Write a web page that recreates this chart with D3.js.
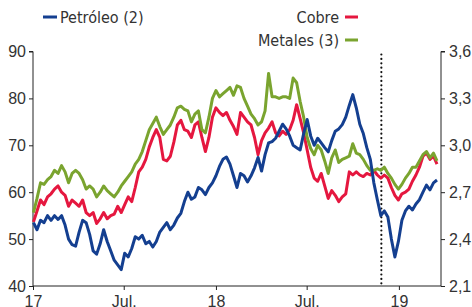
<!DOCTYPE html>
<html>
<head>
<meta charset="utf-8">
<script src="https://cdn.jsdelivr.net/npm/d3@7"></script>
<style>
  body { margin: 0; background: #fff; }
  svg { display: block; font-family: "Liberation Sans Narrow", "Arial Narrow", "DejaVu Sans Condensed", sans-serif; }
  .axis path, .axis line { stroke: #222; }
  .axis text { fill: #333; font-size: 16px; font-family: inherit; }
</style>
</head>
<body>
<div id="chart"></div>
<script>
// precios semanales (petróleo: eje izq., cobre y metales: eje der.)
const petroleo = [
  53.5, 52, 54, 53.5, 55, 54, 55, 54.2, 55, 53,
  50, 48.8, 48.5, 51.5, 54, 53.5, 51, 47.5, 46.8, 49,
  52, 49.5, 47.5, 45.5, 44.5, 43.5, 47, 46.2, 48, 50.5,
  50, 50.8, 49, 49.5, 48.3, 49.5, 51.5, 52.5, 53.5, 52,
  53, 54.5, 55.5, 58, 60, 58.5, 59, 61, 60.5, 59.5,
  61, 62, 63.5, 65.5, 67, 67.5, 66, 63.5, 61, 64,
  63.5, 62.2, 63.5, 65.2, 67.4, 64.5, 68, 70.5, 70.8, 71.5,
  73, 74.5, 73.5, 72, 70, 69.5, 69, 72.5, 75.5, 72,
  70, 71.5, 70.5, 69.5, 68.6, 71, 73, 73.5, 74.4, 76,
  78.5, 80.8, 78, 74.5, 72.5, 69.5, 67, 62, 58.4, 55,
  56, 54.7, 50, 46.2, 49.5, 54, 56, 57, 56.2, 57.5,
  58.4, 60, 61.5, 60.5, 62, 62.6
];
const cobre = [
  2.51, 2.58, 2.65, 2.62, 2.67, 2.69, 2.72, 2.74, 2.70, 2.68,
  2.61, 2.65, 2.63, 2.61, 2.65, 2.57, 2.55, 2.57, 2.50, 2.53,
  2.57, 2.53, 2.55, 2.56, 2.61, 2.57, 2.62, 2.67, 2.64, 2.73,
  2.83, 2.86, 2.91, 2.99, 3.05, 3.10, 3.05, 2.91, 2.90, 2.93,
  3.02, 3.13, 3.16, 3.10, 3.09, 3.05, 3.13, 3.15, 3.05, 2.96,
  3.05, 3.18, 3.24, 3.21, 3.19, 3.21, 3.16, 3.12, 3.07, 3.21,
  3.18, 3.15, 3.13, 3.05, 2.94, 3.03, 3.08, 3.11, 3.15, 3.08,
  3.06, 3.09, 3.07, 3.10, 3.16, 3.26, 3.17, 3.08, 2.97, 2.86,
  2.79, 2.77, 2.82, 2.74, 2.66, 2.71, 2.68, 2.64, 2.67, 2.69,
  2.83, 2.81, 2.83, 2.81, 2.80, 2.82, 2.81, 2.84, 2.81, 2.79,
  2.81, 2.79, 2.73, 2.68, 2.65, 2.69, 2.70, 2.72, 2.77, 2.81,
  2.86, 2.93, 2.95, 2.91, 2.93, 2.88
];
const metales = [
  2.57, 2.66, 2.76, 2.75, 2.78, 2.80, 2.84, 2.82, 2.87, 2.83,
  2.76, 2.82, 2.84, 2.82, 2.78, 2.72, 2.74, 2.72, 2.67, 2.70,
  2.74, 2.71, 2.69, 2.67, 2.70, 2.74, 2.77, 2.80, 2.83, 2.88,
  2.91, 2.96, 3.03, 3.10, 3.14, 3.18, 3.12, 3.07, 3.10, 3.13,
  3.18, 3.24, 3.25, 3.23, 3.22, 3.15, 3.20, 3.22, 3.10, 3.08,
  3.18, 3.30, 3.35, 3.31, 3.33, 3.35, 3.37, 3.32, 3.38, 3.37,
  3.30, 3.25, 3.20, 3.17, 3.13, 3.15, 3.22, 3.46, 3.31, 3.31,
  3.30, 3.31, 3.31, 3.30, 3.43, 3.40, 3.28, 3.18, 3.05, 2.98,
  2.94, 3.00, 2.97, 2.90, 2.82, 2.92, 2.97, 2.89, 2.91, 2.92,
  2.93, 3.01, 2.95, 2.94, 2.91, 2.87, 2.84, 2.84, 2.85, 2.84,
  2.86, 2.82, 2.79, 2.75, 2.72, 2.75, 2.79, 2.82, 2.86, 2.86,
  2.90, 2.94, 2.96, 2.92, 2.95, 2.90
];

// una fecha por semana (lunes), ene-2017 a mar-2019
const fechas = d3.timeMonday.range(new Date(2017, 0, 2), new Date(2019, 2, 19));

const ticksIzq = [40, 50, 60, 70, 80, 90];
const ticksDer = [2.1, 2.4, 2.7, 3.0, 3.3, 3.6];
const ticksX = [new Date(2017, 0, 1), new Date(2017, 6, 1), new Date(2018, 0, 1), new Date(2018, 6, 1), new Date(2019, 0, 1)];
const etiquetasX = ["17", "Jul.", "18", "Jul.", "19"];
const fechaCorte = new Date(2018, 10, 27);

const width = 472, height = 307;
const m = { left: 33, right: 441, top: 51.5, bottom: 286 };

const svg = d3.select("#chart").append("svg")
  .attr("width", width)
  .attr("height", height);

const x = d3.scaleTime()
  .domain([new Date(2017, 0, 1), new Date(2019, 2, 26)])
  .range([m.left, m.right]);
const yIzq = d3.scaleLinear().domain([40, 90]).range([m.bottom, m.top]);
const yDer = d3.scaleLinear().domain([2.1, 3.6]).range([m.bottom, m.top]);

// ejes
svg.append("g")
  .attr("class", "axis")
  .attr("transform", `translate(${m.left},0)`)
  .call(d3.axisLeft(yIzq).tickValues(ticksIzq).tickSize(4).tickPadding(3).tickFormat(d3.format("d")))
  .call(g => g.select(".domain").attr("d", `M-4,${m.top}H0V${m.bottom}`));

svg.append("g")
  .attr("class", "axis")
  .attr("transform", `translate(${m.right},0)`)
  .call(d3.axisRight(yDer).tickValues(ticksDer).tickSize(4).tickPadding(4)
    .tickFormat(d => d.toFixed(1).replace(".", ",")))
  .call(g => g.select(".domain").attr("d", `M4,${m.top}H0V${m.bottom}`));

svg.append("g")
  .attr("class", "axis")
  .attr("transform", `translate(0,${m.bottom})`)
  .call(d3.axisBottom(x).tickValues(ticksX).tickSize(4).tickPadding(6)
    .tickFormat((d, i) => etiquetasX[i]))
  .call(g => g.select(".domain").attr("d", `M${m.left},0H${m.right}`));

// línea punteada vertical
svg.append("line")
  .attr("x1", x(fechaCorte)).attr("x2", x(fechaCorte))
  .attr("y1", m.top + 3).attr("y2", m.bottom)
  .attr("stroke", "#111")
  .attr("stroke-width", 2.2)
  .attr("stroke-linecap", "round")
  .attr("stroke-dasharray", "0,4.4");

// series
const series = [
  { valores: cobre, escala: yDer, color: "#e5173f" },
  { valores: metales, escala: yDer, color: "#7aa42f" },
  { valores: petroleo, escala: yIzq, color: "#143f90" }
];

series.forEach(s => {
  const linea = d3.line()
    .x((d, i) => x(fechas[i]))
    .y(d => s.escala(d));
  svg.append("path")
    .datum(s.valores)
    .attr("fill", "none")
    .attr("stroke", s.color)
    .attr("stroke-width", 3)
    .attr("stroke-linejoin", "round")
    .attr("d", linea);
});

// leyenda
const leyenda = svg.append("g").attr("font-size", 16).attr("fill", "#333");
leyenda.append("line").attr("x1", 43).attr("x2", 57).attr("y1", 17).attr("y2", 17)
  .attr("stroke", "#143f90").attr("stroke-width", 3);
leyenda.append("text").attr("x", 60).attr("y", 23).text("Petróleo (2)");

leyenda.append("text").attr("x", 339).attr("y", 23).attr("text-anchor", "end").text("Cobre");
leyenda.append("line").attr("x1", 345).attr("x2", 358).attr("y1", 17).attr("y2", 17)
  .attr("stroke", "#e5173f").attr("stroke-width", 3);

leyenda.append("text").attr("x", 339).attr("y", 46).attr("text-anchor", "end").text("Metales (3)");
leyenda.append("line").attr("x1", 345).attr("x2", 358).attr("y1", 40).attr("y2", 40)
  .attr("stroke", "#7aa42f").attr("stroke-width", 3);
</script>
</body>
</html>
